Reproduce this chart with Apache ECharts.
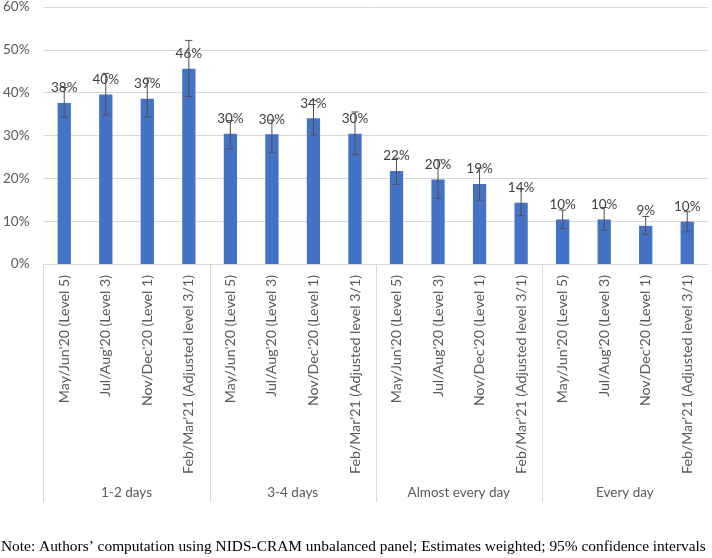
<!DOCTYPE html>
<html>
<head>
<meta charset="utf-8">
<script src="https://cdn.jsdelivr.net/npm/echarts@6/dist/echarts.min.js"></script>
<style>html,body{margin:0;padding:0;background:#fff}#c{width:712px;height:558px}</style>
</head>
<body>
<div id="c"></div>
<script>
const periods = ["May/Jun'20 (Level 5)", "Jul/Aug'20 (Level 3)", "Nov/Dec'20 (Level 1)", "Feb/Mar'21 (Adjusted level 3/1)"];
const groups = ["1-2 days", "3-4 days", "Almost every day", "Every day"];
const values = [37.6, 39.6, 38.6, 45.6, 30.4, 30.3, 34.0, 30.4, 21.7, 19.7, 18.7, 14.3, 10.4, 10.4, 8.9, 9.9];
const lower  = [34.3, 34.8, 34.3, 39.1, 26.9, 26.1, 30.1, 25.5, 18.6, 15.3, 14.9, 11.3, 8.3, 7.9, 6.9, 7.5];
const upper  = [41.2, 44.5, 43.4, 52.2, 33.5, 33.6, 38.2, 35.5, 24.7, 24.3, 22.4, 17.5, 12.6, 13.2, 11.1, 12.2];
const yTicks = [0, 10, 20, 30, 40, 50, 60];
const noteText = "Note: Authors\u2019 computation using NIDS-CRAM unbalanced panel; Estimates weighted; 95% confidence intervals";

const categories = [];
groups.forEach(() => periods.forEach(p => categories.push(p)));
const groupStarts = groups.map((g, i) => i * periods.length);

const FONT = 'Lato';
const chart = echarts.init(document.getElementById('c'));
chart.setOption({
  animation: false,
  grid: {left: 40, right: 4, top: 7, bottom: 294, containLabel: false},
  xAxis: [{
    type: 'category', data: categories, boundaryGap: true,
    axisLine: {show: true, lineStyle: {color: '#d9d9d9', width: 1}},
    axisTick: {show: false},
    axisLabel: {rotate: 90, interval: 0, margin: 11, color: '#595959', fontFamily: FONT, fontSize: 14.2}
  }, {
    type: 'category', data: groups, position: 'bottom', boundaryGap: true,
    axisLine: {show: false}, axisTick: {show: false},
    axisLabel: {interval: 0, margin: 222, color: '#595959', fontFamily: FONT, fontSize: 13.5}
  }],
  yAxis: {
    type: 'value', min: yTicks[0], max: yTicks[yTicks.length - 1], interval: 10,
    axisLine: {show: false}, axisTick: {show: false},
    axisLabel: {formatter: '{value}%', margin: 14, color: '#595959', fontFamily: FONT, fontSize: 13.5},
    splitLine: {lineStyle: {color: '#d9d9d9', width: 1}}
  },
  series: [{
    type: 'bar', data: values, barWidth: '32%', xAxisIndex: 0,
    itemStyle: {color: '#4472C4'},
    label: {show: true, position: 'top', distance: 8, color: '#404040', fontFamily: FONT, fontSize: 13.5,
      formatter: p => Math.round(p.value) + '%'}
  }, {
    type: 'custom', xAxisIndex: 0, z: 5,
    data: values.map((v, i) => [i, lower[i], upper[i]]),
    renderItem: (params, api) => {
      const lo = api.coord([api.value(0), api.value(1)]);
      const hi = api.coord([api.value(0), api.value(2)]);
      const s = {stroke: '#505050', lineWidth: 1};
      const w = 3.5;
      return {type: 'group', children: [
        {type: 'line', shape: {x1: hi[0], y1: hi[1], x2: lo[0], y2: lo[1]}, style: s},
        {type: 'line', shape: {x1: hi[0] - w, y1: hi[1], x2: hi[0] + w, y2: hi[1]}, style: s},
        {type: 'line', shape: {x1: lo[0] - w, y1: lo[1], x2: lo[0] + w, y2: lo[1]}, style: s}
      ]};
    }
  }, {
    type: 'custom', xAxisIndex: 0, z: 1, clip: false, silent: true,
    data: groupStarts.map(i => [i, 0]),
    renderItem: (params, api) => {
      const p = api.coord([api.value(0), api.value(1)]);
      const bw = api.size([1, 0])[0];
      const x = Math.round(p[0] - bw / 2) + 0.5;
      return {type: 'line', shape: {x1: x, y1: p[1], x2: x, y2: p[1] + 238},
        style: {stroke: '#d9d9d9', lineWidth: 1}};
    }
  }],
  graphic: [{
    type: 'text', left: 1, top: 539,
    style: {text: noteText, fontFamily: 'Liberation Serif', fontSize: 15.4, fill: '#000'}
  }]
});
</script>
</body>
</html>
